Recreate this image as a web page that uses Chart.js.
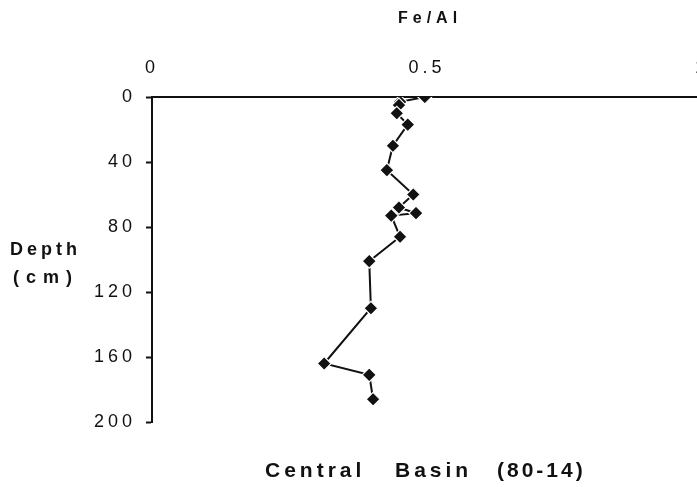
<!DOCTYPE html>
<html>
<head>
<meta charset="utf-8">
<script src="https://cdn.jsdelivr.net/npm/chart.js@4.4.0/dist/chart.umd.min.js"></script>
<style>
    html, body { margin: 0; padding: 0; background: #fff; overflow: hidden; }
    canvas { display: block; }
</style>
</head>
<body>
<canvas id="profile" width="712" height="487"></canvas>
<script>
// Fe/Al ratio down the core, depth in cm
const depthCm = [0, 3, 5, 10, 17, 30, 45, 60, 68, 71.5, 73, 86, 101, 130, 164, 171, 186];
const feAlRatio = [0.496, 0.451, 0.449, 0.445, 0.465, 0.438, 0.427, 0.475, 0.449, 0.48, 0.435, 0.451, 0.395, 0.398, 0.313, 0.395, 0.402];
const ratioTicks = [0, 0.5, 1];
const depthTicks = [0, 40, 80, 120, 160, 200];

const INK = '#111';
const FONT = '"Liberation Sans", Arial, sans-serif';

// free text: axis names and the core label
const profileText = {
    id: 'profileText',
    beforeDraw(chart) {
        chart.ctx.letterSpacing = '4px';
    },
    afterDraw(chart) {
        const ctx = chart.ctx;
        ctx.save();
        ctx.fillStyle = INK;
        ctx.textBaseline = 'alphabetic';
        ctx.textAlign = 'left';

        ctx.font = 'bold 16px ' + FONT;
        ctx.letterSpacing = '5px';
        ctx.fillText('Fe/Al', 398, 23);

        ctx.font = 'bold 18px ' + FONT;
        ctx.letterSpacing = '4px';
        ctx.fillText('Depth', 10, 255);
        ctx.letterSpacing = '7px';
        ctx.fillText('(cm)', 13, 283);

        ctx.font = 'bold 21px ' + FONT;
        ctx.letterSpacing = '4px';
        ctx.fillText('Central', 265, 477);
        ctx.fillText('Basin', 395, 477);
        ctx.letterSpacing = '3px';
        ctx.fillText('(80-14)', 497, 477);
        ctx.restore();
    }
};

new Chart(document.getElementById('profile'), {
    type: 'scatter',
    data: {
        datasets: [{
            data: feAlRatio.map((v, i) => ({ x: v, y: depthCm[i] })),
            showLine: true,
            borderColor: INK,
            borderWidth: 2,
            pointStyle: 'rectRot',
            pointRadius: 7,
            pointBackgroundColor: INK,
            pointBorderColor: '#fff',
            pointBorderWidth: 1.2
        }]
    },
    options: {
        responsive: false,
        animation: false,
        layout: { padding: { left: 0, top: 0, right: 10, bottom: 65 } },
        plugins: {
            legend: { display: false },
            tooltip: { enabled: false }
        },
        scales: {
            x: {
                type: 'linear',
                position: 'top',
                min: 0,
                max: 1,
                afterBuildTicks: s => { s.ticks = ratioTicks.map(v => ({ value: v })); },
                afterFit: s => { s.height = 97; s.paddingLeft = 0; s.paddingRight = 0; },
                grid: { drawOnChartArea: false, drawTicks: false },
                border: { color: INK, width: 2 },
                ticks: {
                    color: INK,
                    padding: 18,
                    font: { family: FONT, size: 18 },
                    callback: v => String(v)
                }
            },
            y: {
                type: 'linear',
                reverse: true,
                min: 0,
                max: 200,
                afterBuildTicks: s => { s.ticks = depthTicks.map(v => ({ value: v })); },
                afterFit: s => { s.width = 152; s.paddingTop = 0; s.paddingBottom = 0; },
                grid: { drawOnChartArea: false, drawTicks: true, tickLength: 6, color: INK, tickWidth: 2 },
                border: { color: INK, width: 2 },
                ticks: {
                    color: INK,
                    padding: 10,
                    font: { family: FONT, size: 18 },
                    callback: v => String(v)
                }
            }
        }
    },
    plugins: [profileText]
});
</script>
</body>
</html>
